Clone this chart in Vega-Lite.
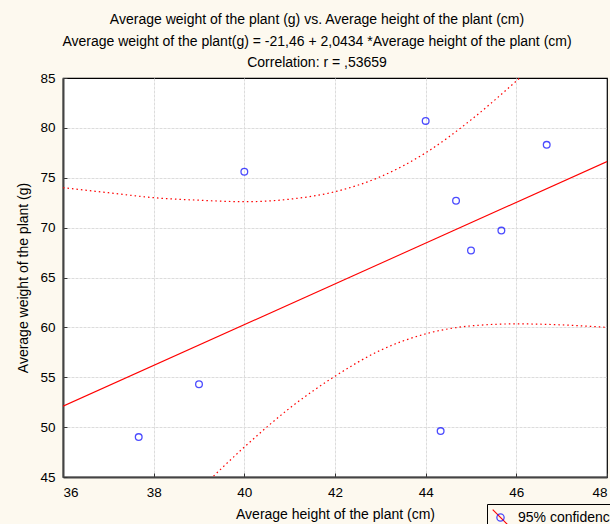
{
  "$schema": "https://vega.github.io/schema/vega-lite/v6.json",
  "autosize": "none",
  "width": 544,
  "height": 399,
  "padding": {"left": 63, "top": 78, "right": 3, "bottom": 47},
  "background": "#fdf9ef",
  "view": {"fill": "white", "stroke": "#000000", "strokeWidth": 1.2},
  "title": {
    "text": [
      "Average weight  of the plant (g) vs. Average height of the plant (cm)",
      "Average weight of the plant(g) = -21,46 + 2,0434 *Average height of the plant (cm)",
      "Correlation: r = ,53659"
    ],
    "anchor": "middle",
    "dx": -18,
    "offset": 1,
    "font": "Liberation Sans",
    "fontSize": 14,
    "fontWeight": "normal",
    "color": "#000000",
    "lineHeight": 21.5
  },
  "config": {
    "axis": {
      "labelFont": "Liberation Sans",
      "labelFontSize": 13.5,
      "labelColor": "#000000",
      "titleFont": "Liberation Sans",
      "titleFontSize": 14,
      "titleFontWeight": "normal",
      "titleColor": "#000000",
      "domainColor": "#444444",
      "domainWidth": 2,
      "tickColor": "#333333",
      "tickSize": -4,
      "labelPadding": 12,
      "gridDash": [3, 1],
      "gridWidth": 1
    }
  },
  "datasets": {
    "points": [
      {"height": 37.67, "weight": 49.0, "series": "95% confidence"},
      {"height": 39.0, "weight": 54.3, "series": "95% confidence"},
      {"height": 40.0, "weight": 75.6, "series": "95% confidence"},
      {"height": 44.0, "weight": 80.7, "series": "95% confidence"},
      {"height": 44.33, "weight": 49.6, "series": "95% confidence"},
      {"height": 44.67, "weight": 72.7, "series": "95% confidence"},
      {"height": 45.0, "weight": 67.7, "series": "95% confidence"},
      {"height": 45.67, "weight": 69.7, "series": "95% confidence"},
      {"height": 46.67, "weight": 78.3, "series": "95% confidence"}
    ],
    "fit": [
      {"height": 36, "weight": 52.1, "series": "95% confidence"},
      {"height": 48, "weight": 76.62, "series": "95% confidence"}
    ],
    "band": [
      {"height": 36, "weight": 74.0, "bound": "upper"},
      {"height": 37, "weight": 73.5, "bound": "upper"},
      {"height": 38, "weight": 73.0, "bound": "upper"},
      {"height": 39, "weight": 72.75, "bound": "upper"},
      {"height": 40, "weight": 72.6, "bound": "upper"},
      {"height": 41, "weight": 72.85, "bound": "upper"},
      {"height": 42, "weight": 73.6, "bound": "upper"},
      {"height": 43, "weight": 75.1, "bound": "upper"},
      {"height": 44, "weight": 77.5, "bound": "upper"},
      {"height": 45, "weight": 80.8, "bound": "upper"},
      {"height": 46, "weight": 84.7, "bound": "upper"},
      {"height": 47, "weight": 88.9, "bound": "upper"},
      {"height": 48, "weight": 93.2, "bound": "upper"},
      {"height": 36, "weight": 30.2, "bound": "lower"},
      {"height": 37, "weight": 34.8, "bound": "lower"},
      {"height": 38, "weight": 39.4, "bound": "lower"},
      {"height": 39, "weight": 43.7, "bound": "lower"},
      {"height": 40, "weight": 48.0, "bound": "lower"},
      {"height": 41, "weight": 51.9, "bound": "lower"},
      {"height": 42, "weight": 55.1, "bound": "lower"},
      {"height": 43, "weight": 57.7, "bound": "lower"},
      {"height": 44, "weight": 59.35, "bound": "lower"},
      {"height": 45, "weight": 60.15, "bound": "lower"},
      {"height": 46, "weight": 60.35, "bound": "lower"},
      {"height": 47, "weight": 60.25, "bound": "lower"},
      {"height": 48, "weight": 60.0, "bound": "lower"}
    ]
  },
  "encoding": {
    "x": {
      "field": "height",
      "type": "quantitative",
      "scale": {"domain": [36, 48], "nice": false, "zero": false},
      "axis": {
        "title": "Average height of the plant (cm)",
        "values": [36, 38, 40, 42, 44, 46, 48],
        "titlePadding": 9,
        "gridColor": {"condition": {"test": "datum.value >= 48", "value": "transparent"}, "value": "#dcdcdc"}
      }
    },
    "y": {
      "field": "weight",
      "type": "quantitative",
      "scale": {"domain": [45, 85], "nice": false, "zero": false},
      "axis": {
        "title": "Average weight of the plant (g)",
        "values": [45, 50, 55, 60, 65, 70, 75, 80, 85],
        "titlePadding": 9,
        "gridColor": {"condition": {"test": "datum.value >= 85", "value": "transparent"}, "value": "#dcdcdc"}
      }
    }
  },
  "layer": [
    {
      "data": {"name": "band"},
      "mark": {"type": "line", "color": "#ff0000", "strokeWidth": 1.2, "strokeDash": [1.5, 3], "interpolate": "monotone", "clip": true},
      "encoding": {"detail": {"field": "bound"}}
    },
    {
      "data": {"name": "fit"},
      "mark": {"type": "line", "strokeWidth": 1.1, "clip": true},
      "encoding": {
        "stroke": {
          "field": "series",
          "type": "nominal",
          "scale": {"range": ["#ff0000"]},
          "legend": {
            "title": null,
            "orient": "none",
            "legendX": 424,
            "legendY": 426,
            "padding": 4,
            "labelFont": "Liberation Sans",
            "labelFontSize": 14,
            "labelExpr": "''",
            "labelOffset": 8,
            "symbolType": "M-0.9,-0.9L0.9,0.9",
            "symbolSize": 300,
            "symbolStrokeWidth": 1.1
          }
        }
      }
    },
    {
      "data": {"name": "points"},
      "mark": {"type": "point", "shape": "circle", "filled": false, "size": 45, "strokeWidth": 1.3},
      "encoding": {
        "color": {
          "field": "series",
          "type": "nominal",
          "scale": {"range": ["#0000ff"]},
          "legend": {
            "title": null,
            "orient": "none",
            "legendX": 424,
            "legendY": 426,
            "padding": 4,
            "strokeColor": "#000000",
            "labelFont": "Liberation Sans",
            "labelFontSize": 14,
            "labelColor": "#000000",
            "labelOffset": 8,
            "symbolType": "M0.42,0A0.42,0.42,0,1,1,-0.42,0A0.42,0.42,0,1,1,0.42,0Z",
            "symbolSize": 300,
            "symbolStrokeWidth": 1.3
          }
        }
      }
    }
  ]
}
